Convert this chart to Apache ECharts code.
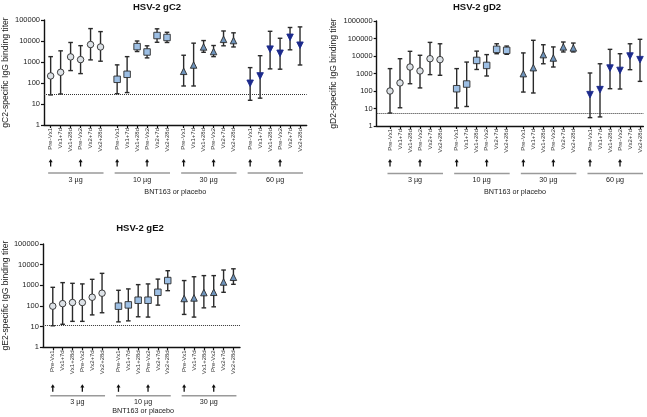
<!DOCTYPE html>
<html>
<head>
<meta charset="utf-8">
<script src="https://cdn.jsdelivr.net/npm/echarts@6/dist/echarts.min.js"></script>
<style>
  html, body { margin: 0; padding: 0; background: #fff; }
  #chart { width: 647px; height: 417px; }
</style>
</head>
<body>
<div id="chart"></div>
<script>
const timepoints = ['Pre-Vx1', 'Vx1+7d', 'Vx1+28d', 'Pre-Vx2', 'Vx2+7d', 'Vx2+28d'];
const doses = ['3 µg', '10 µg', '30 µg', '60 µg'];
const arrowAt = [0, 3]; // vaccination time points (Pre-Vx1, Pre-Vx2)

// GMT with lower / upper CI, one row per dose group
const gC2Gmt  = [[217, 324, 1750, 1300, 6800, 5200], [150, 260, 5400, 3000, 18200, 14700], [360, 720, 5200, 3150, 12000, 10500], [97, 218, 4100, 2600, 15000, 6300]];
const gC2Low  = [[27, 30, 390, 280, 1260, 1090], [31, 35, 3150, 1570, 8700, 8500], [72, 72, 2900, 1800, 5900, 5200], [15, 19, 470, 455, 3800, 720]];
const gC2High = [[1800, 3400, 8500, 6000, 39000, 28000], [730, 1800, 10000, 5900, 38000, 26000], [2100, 7900, 10500, 6100, 30000, 24500], [540, 2000, 29000, 13500, 44000, 47000]];
const gC2Lloq = 30;

const gD2Gmt  = [[100, 290, 2350, 1400, 7000, 6200], [135, 250, 5600, 2900, 24000, 21000], [980, 2150, 12000, 7700, 33000, 29000], [62, 120, 2050, 1500, 10000, 6200]];
const gD2Low  = [[5.5, 11, 260, 150, 860, 790], [10.7, 13, 1700, 720, 13500, 12500], [87, 77, 3600, 2350, 17000, 17000], [3.0, 3.3, 135, 130, 1650, 355]];
const gD2High = [[1900, 7000, 18500, 11000, 60000, 50000], [1900, 4500, 19000, 12000, 50000, 37000], [15000, 79000, 44000, 33000, 63000, 55000], [1070, 3600, 24000, 13500, 50000, 90000]];
const gD2Lloq = 5.5;

const gE2Gmt  = [[98, 130, 147, 147, 265, 415], [98, 113, 190, 190, 460, 1700], [230, 245, 445, 460, 1450, 2450]];
const gE2Low  = [[11, 13, 18, 18, 37, 47], [17, 19, 30, 29, 110, 550], [39, 29, 81, 91, 460, 1120]];
const gE2High = [[800, 1350, 1250, 1170, 1950, 3800], [575, 670, 1080, 1170, 2000, 5100], [1700, 2600, 2950, 2950, 5500, 6300]];
const gE2Lloq = 12.3;

const doseStyles = [
  { symbol: 'circle', color: '#dde2e7', border: '#2b2b2b', rotate: 0 },
  { symbol: 'rect', color: '#9dbfe4', border: '#2b2b2b', rotate: 0 },
  { symbol: 'triangle', color: '#6f94bc', border: '#2b2b2b', rotate: 0 },
  { symbol: 'triangle', color: '#1c2a8c', border: '#1c2a8c', rotate: 180 }
];

const SLOT = 10 / 3;     // px per category slot
const GROUP = 20;        // slots between dose groups
const STEP = 3;          // slots between time points

const panels = [
  { title: 'HSV-2 gC2', yName: 'gC2-specific IgG binding titer', gmt: gC2Gmt, low: gC2Low, high: gC2High, lloq: gC2Lloq,
    ymax: 1e5, left: 43.33, top: 20, height: 105, pre: 2, post: 2, nameGap: 34, titleX: 157, titleY: 2,
    arrowOff: 34, lineOff: 48, doseOff: 55, bntOff: 67 },
  { title: 'HSV-2 gD2', yName: 'gD2-specific IgG binding titer', gmt: gD2Gmt, low: gD2Low, high: gD2High, lloq: gD2Lloq,
    ymax: 1e6, left: 376.67, top: 21, height: 105, pre: 4, post: 1, nameGap: 39, titleX: 477, titleY: 2,
    arrowOff: 33, lineOff: 47.5, doseOff: 54.5, bntOff: 66 },
  { title: 'HSV-2 gE2', yName: 'gE2-specific IgG binding titer', gmt: gE2Gmt, low: gE2Low, high: gE2High, lloq: gE2Lloq,
    ymax: 1e5, left: 40, top: 244, height: 103.3, pre: 3, post: 2, nameGap: 31, titleX: 140, titleY: 223,
    arrowOff: 37, lineOff: 48.5, doseOff: 54.5, bntOff: 64 }
];

const slotOf = (p, g, i) => p.pre + g * GROUP + i * STEP;

const chart = echarts.init(document.getElementById('chart'));

const grids = [], xAxes = [], yAxes = [], series = [], titles = [];

panels.forEach((p, pi) => {
  const nGroups = p.gmt.length;
  const nCats = p.pre + (nGroups - 1) * GROUP + 5 * STEP + 1 + p.post;
  const cats = new Array(nCats).fill('');
  for (let g = 0; g < nGroups; g++) {
    timepoints.forEach((t, i) => { cats[slotOf(p, g, i)] = t; });
  }

  grids.push({ left: p.left, top: p.top, width: (nCats - 1) * SLOT, height: p.height });

  titles.push({
    text: p.title, left: p.titleX, top: p.titleY, textAlign: 'center', padding: 0,
    textStyle: { fontSize: 9.5, fontWeight: 'bold', color: '#111', fontFamily: 'Liberation Sans' }
  });

  xAxes.push({
    type: 'category', gridIndex: pi, data: cats, boundaryGap: false,
    axisLine: { lineStyle: { color: '#111', width: 1.4 } },
    axisTick: { length: 3, lineStyle: { color: '#111', width: 1.2 }, interval: (idx, val) => val !== '' },
    axisLabel: { rotate: 90, fontSize: 6, color: '#333', margin: 3, interval: (idx, val) => val !== '' },
    splitLine: { show: false }
  });

  yAxes.push({
    type: 'log', gridIndex: pi, logBase: 10, min: 1, max: p.ymax, splitNumber: 6,
    name: p.yName, nameLocation: 'middle', nameGap: p.nameGap,
    nameTextStyle: { fontSize: 8.6, color: '#222' },
    axisLine: { show: true, lineStyle: { color: '#111', width: 1.4 } },
    axisTick: { show: true, length: 3, lineStyle: { color: '#111', width: 1.2 } },
    axisLabel: { fontSize: 7.5, color: '#222', margin: 4, formatter: v => String(Math.round(v)) },
    splitLine: { show: false }
  });

  // error bars
  const bars = [];
  p.gmt.forEach((row, g) => row.forEach((v, i) => bars.push([slotOf(p, g, i), p.low[g][i], p.high[g][i]])));
  series.push({
    type: 'custom', xAxisIndex: pi, yAxisIndex: pi, data: bars, encode: { x: 0, y: [1, 2] }, z: 2,
    renderItem: (params, api) => {
      const x = api.value(0);
      const lo = api.coord([x, api.value(1)]);
      const hi = api.coord([x, api.value(2)]);
      const w = 2.3;
      const style = { stroke: '#2a2a2a', lineWidth: 1.4 };
      return {
        type: 'group',
        children: [
          { type: 'line', shape: { x1: lo[0], y1: lo[1], x2: hi[0], y2: hi[1] }, style },
          { type: 'line', shape: { x1: lo[0] - w, y1: lo[1], x2: lo[0] + w, y2: lo[1] }, style },
          { type: 'line', shape: { x1: hi[0] - w, y1: hi[1], x2: hi[0] + w, y2: hi[1] }, style }
        ]
      };
    },
    markLine: {
      silent: true, symbol: 'none', label: { show: false },
      lineStyle: { type: 'dotted', color: '#333', width: 1 },
      data: [{ yAxis: p.lloq }]
    }
  });

  p.gmt.forEach((row, g) => {
    const s = doseStyles[g];
    series.push({
      type: 'scatter', name: doses[g], xAxisIndex: pi, yAxisIndex: pi, z: 3,
      symbol: s.symbol, symbolSize: 6.5, symbolRotate: s.rotate,
      itemStyle: { color: s.color, borderColor: s.border, borderWidth: 0.9, opacity: 1 },
      data: row.map((v, i) => [slotOf(p, g, i), v])
    });
  });
});

chart.setOption({
  animation: false,
  textStyle: { fontFamily: 'Liberation Sans' },
  title: titles,
  grid: grids,
  xAxis: xAxes,
  yAxis: yAxes,
  series: series
});

// arrows, dose brackets and axis caption below each panel
const graphics = [];
panels.forEach((p, pi) => {
  const base = p.top + p.height;
  const px = s => chart.convertToPixel({ xAxisIndex: pi }, s);
  p.gmt.forEach((row, g) => {
    const x1 = px(slotOf(p, g, 0));
    const x2 = px(slotOf(p, g, 5));
    graphics.push({ type: 'line', shape: { x1: x1 - 2.5, y1: base + p.lineOff, x2: x2 + 3, y2: base + p.lineOff },
      style: { stroke: '#9a9a9a', lineWidth: 1.5 } });
    graphics.push({ type: 'text', x: (x1 + x2) / 2, y: base + p.doseOff,
      style: { text: doses[g], fontSize: 7.2, fill: '#222', align: 'center', verticalAlign: 'middle', fontFamily: 'Liberation Sans' } });
    arrowAt.forEach(i => {
      const ax = px(slotOf(p, g, i));
      const ay = base + p.arrowOff;
      graphics.push({ type: 'polygon', shape: { points: [[ax - 2, ay + 3.2], [ax, ay], [ax + 2, ay + 3.2]] }, style: { fill: '#111' } });
      graphics.push({ type: 'rect', shape: { x: ax - 0.65, y: ay + 2.5, width: 1.3, height: 5 }, style: { fill: '#111' } });
    });
  });
  const first = px(slotOf(p, 0, 0));
  const last = px(slotOf(p, p.gmt.length - 1, 5));
  graphics.push({ type: 'text', x: (first + last) / 2, y: base + p.bntOff,
    style: { text: 'BNT163 or placebo', fontSize: 7.2, fill: '#222', align: 'center', verticalAlign: 'middle', fontFamily: 'Liberation Sans' } });
});
chart.setOption({ graphic: graphics });
</script>
</body>
</html>
